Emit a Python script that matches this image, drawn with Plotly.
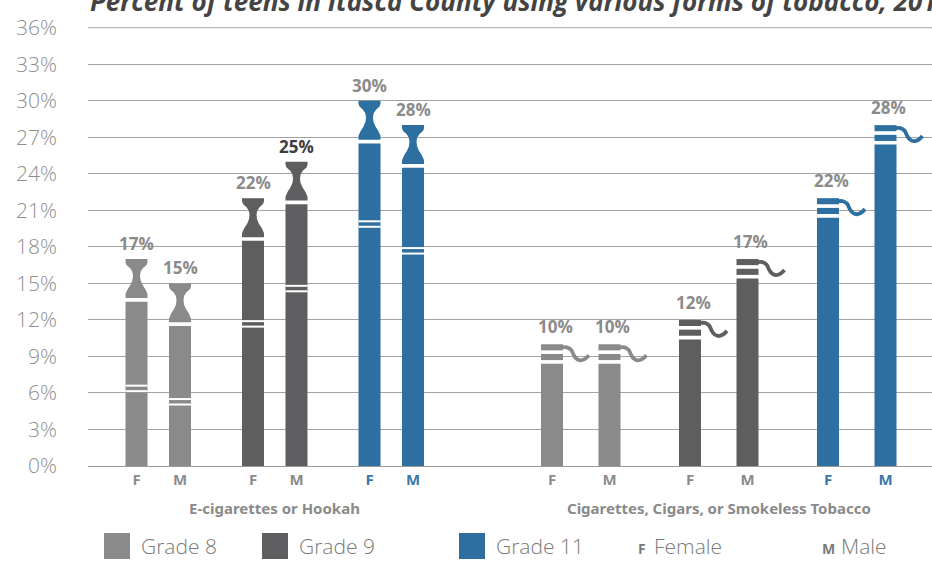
import plotly.graph_objects as go

# ---------------- data ----------------
title_text = "Percent of teens in Itasca County using various forms of tobacco, 2016"
products = ["E-cigarettes or Hookah", "Cigarettes, Cigars, or Smokeless Tobacco"]
grades = ["Grade 8", "Grade 9", "Grade 11"]
sexes = ["F", "M"]
sex_names = ["Female", "Male"]
# order: G8 F, G8 M, G9 F, G9 M, G11 F, G11 M
ecig_values = [17, 15, 22, 25, 30, 28]
cig_values = [10, 10, 12, 17, 22, 28]
y_ticks = [0, 3, 6, 9, 12, 15, 18, 21, 24, 27, 30, 33, 36]

# ---------------- style / layout ----------------
W, H = 932, 572
PL, PR, PT, PB = 88, 0, 27, 106
plot_h = H - PT - PB
plot_w = W - PL - PR
grade_colors = ["#8a8a8a", "#5e5e60", "#2d6fa0"]
tick_colors = ["#8d8d8d", "#8a8a8a", "#3a77a8"]
label_color = "#8b8b8b"
label_dark = {(0, 3): "#3d3d3d"}
grid_color = "#a3a3a3"
group_first = [136.5, 552.0]
grade_step = [116.5, 138.0]
sex_gap = [43.5, 57.5]
BW = 22.0
ecig_band = [6.6, 5.5, 11.9, 14.8, 20.1, 17.9]
TIP = 3.2
TIP_GAP = 0.3
FONT = "Open Sans"
Y_TOP = 36.06


def xpos(g, grade, sex):
    return group_first[g] + grade * grade_step[g] + sex * sex_gap[g]


def ypaper(ypx):
    return (H - PB - ypx) / plot_h


fig = go.Figure()
shapes = []
annotations = []

tickvals, ticktext = [], []

# top gridline (hidden by plotly at the range edge)
shapes.append(dict(type="line", xref="paper", yref="y", x0=0, x1=1, y0=y_ticks[-1], y1=y_ticks[-1],
                   line=dict(color=grid_color, width=1), layer="below"))

# tip outline (half-width px, fraction of tip height)
tip_right = [(11, 0.0), (11, 0.1), (9, 0.22), (6, 0.34), (4, 0.46), (3.5, 0.58),
             (4.2, 0.68), (6.5, 0.77), (10, 0.85), (11, 0.92), (11, 1.0)]

for gi in range(3):
    color = grade_colors[gi]
    # ---- e-cigarettes ----
    bx, by, tipx, tipy = [], [], [], []
    for si in range(2):
        idx = gi * 2 + si
        v = ecig_values[idx]
        x = xpos(0, gi, si)
        tickvals.append(x)
        ticktext.append(f"<span style='color:{tick_colors[gi]}'>{sexes[si]}</span>")
        body_top = v - TIP - TIP_GAP
        bx.append(x)
        by.append(body_top)
        base = v - TIP
        pts = [(x + dx, base + f * TIP) for dx, f in tip_right]
        pts += [(x - dx, base + f * TIP) for dx, f in reversed(tip_right)]
        tipx += [p[0] for p in pts] + [pts[0][0], None]
        tipy += [p[1] for p in pts] + [pts[0][1], None]
        b = ecig_band[idx]
        for yy in (b, b - 0.45):
            shapes.append(dict(type="line", xref="x", yref="y", x0=x - BW / 2, x1=x + BW / 2,
                               y0=yy, y1=yy, line=dict(color="white", width=2), layer="above"))
        annotations.append(dict(x=x, y=v, xref="x", yref="y", text=f"{v}%", showarrow=False,
                                yanchor="bottom", yshift=2,
                                font=dict(family=FONT, size=17, weight="bold",
                                          color=label_dark.get((0, idx), label_color))))
    fig.add_trace(go.Bar(x=bx, y=by, width=BW, marker=dict(color=color, line=dict(width=0)),
                         hoverinfo="skip", showlegend=False))
    fig.add_trace(go.Scatter(x=tipx, y=tipy, mode="lines", fill="toself", fillcolor=color,
                             line=dict(width=0, color=color), hoverinfo="skip", showlegend=False))

    # ---- cigarettes ----
    cx, cy, cbase, sx, sy = [], [], [], [], []
    for si in range(2):
        idx = gi * 2 + si
        v = cig_values[idx]
        x = xpos(1, gi, si)
        tickvals.append(x)
        ticktext.append(f"<span style='color:{tick_colors[gi]}'>{sexes[si]}</span>")
        # body, lower band, upper band
        for b0, b1 in ((0, v - 1.6), (v - 1.3, v - 0.8), (v - 0.5, v)):
            cx.append(x)
            cbase.append(b0)
            cy.append(b1 - b0)
        r = x + BW / 2
        smoke = [(-1, -0.25), (4, -0.25), (8, -0.45), (10.5, -0.85), (13, -1.15), (17, -1.32),
                 (22, -1.2), (26, -0.9)]
        sx += [r + dx for dx, dy in smoke] + [None]
        sy += [v + dy for dx, dy in smoke] + [None]
        annotations.append(dict(x=x + 3, y=v, xref="x", yref="y", text=f"{v}%", showarrow=False,
                                yanchor="bottom", yshift=4,
                                font=dict(family=FONT, size=17, weight="bold",
                                          color=label_dark.get((1, idx), label_color))))
    fig.add_trace(go.Bar(x=cx, y=cy, base=cbase, width=BW,
                         marker=dict(color=color, line=dict(width=0)),
                         hoverinfo="skip", showlegend=False))
    fig.add_trace(go.Scatter(x=sx, y=sy, mode="lines", line=dict(color=color, width=3.8, shape="spline"),
                             hoverinfo="skip", showlegend=False))

# product labels under the groups
for g, name in enumerate(products):
    c = (xpos(g, 0, 0) + xpos(g, 2, 1)) / 2
    annotations.append(dict(x=c, y=ypaper(508), xref="x", yref="paper", text=f"<b>{name}</b>",
                            yanchor="middle", showarrow=False,
                            font=dict(family="Noto Sans", size=15, color="#8a8a8a")))

# legend
leg_y = 546
SW = 26
grade_sw_x = [104, 262, 459]
for gi, name in enumerate(grades):
    x0 = grade_sw_x[gi]
    shapes.append(dict(type="rect", xref="x", yref="paper", x0=x0, x1=x0 + SW,
                       y0=ypaper(leg_y + SW / 2), y1=ypaper(leg_y - SW / 2),
                       fillcolor=grade_colors[gi], line=dict(width=0)))
    annotations.append(dict(x=x0 + SW + 9, y=ypaper(leg_y), xref="x", yref="paper", text=name,
                            xanchor="left", yanchor="middle", showarrow=False,
                            font=dict(family=FONT, size=21, weight=300, color="#7a7a7a")))
sex_leg_x = [636, 820]
for si, name in enumerate(sex_names):
    x0 = sex_leg_x[si]
    annotations.append(dict(x=x0, y=ypaper(leg_y + 2), xref="x", yref="paper", text=f"<b>{sexes[si]}</b>",
                            xanchor="left", yanchor="middle", showarrow=False,
                            font=dict(family=FONT, size=14, color="#7a7a7a")))
    annotations.append(dict(x=x0 + (16 if si == 0 else 19), y=ypaper(leg_y), xref="x", yref="paper",
                            text=name, xanchor="left", yanchor="middle", showarrow=False,
                            font=dict(family=FONT, size=21, weight=300, color="#7a7a7a")))

# title (cut at the top edge as in the reference)
annotations.append(dict(x=0, y=ypaper(21), xref="paper", yref="paper", text=title_text,
                        xanchor="left", yanchor="bottom", showarrow=False,
                        font=dict(family=FONT, size=26, weight="bold", style="italic", color="#444444")))

fig.update_layout(
    width=W, height=H, margin=dict(l=PL, r=PR, t=PT, b=PB, pad=0),
    plot_bgcolor="white", paper_bgcolor="white",
    barmode="overlay", showlegend=False,
    shapes=shapes, annotations=annotations,
    xaxis=dict(range=[PL, W - PR], tickvals=tickvals, ticktext=ticktext, showgrid=False,
               zeroline=False, showline=True, linecolor="#9a9a9a", linewidth=1,
               tickfont=dict(family=FONT, size=15, weight="bold"), ticks="", fixedrange=True),
    yaxis=dict(range=[0, Y_TOP], tickvals=y_ticks, ticktext=[f"{t}%" for t in y_ticks],
               showgrid=True, gridcolor=grid_color, gridwidth=1, zeroline=False,
               tickfont=dict(family=FONT, size=21, weight=300, color="#8e8e8e"),
               ticklabelstandoff=30, ticks="", fixedrange=True),
)

fig.write_html("out.html", include_plotlyjs=True, config={"displayModeBar": False},
               post_script="document.body.style.margin='0px';document.body.style.overflow='hidden';")
